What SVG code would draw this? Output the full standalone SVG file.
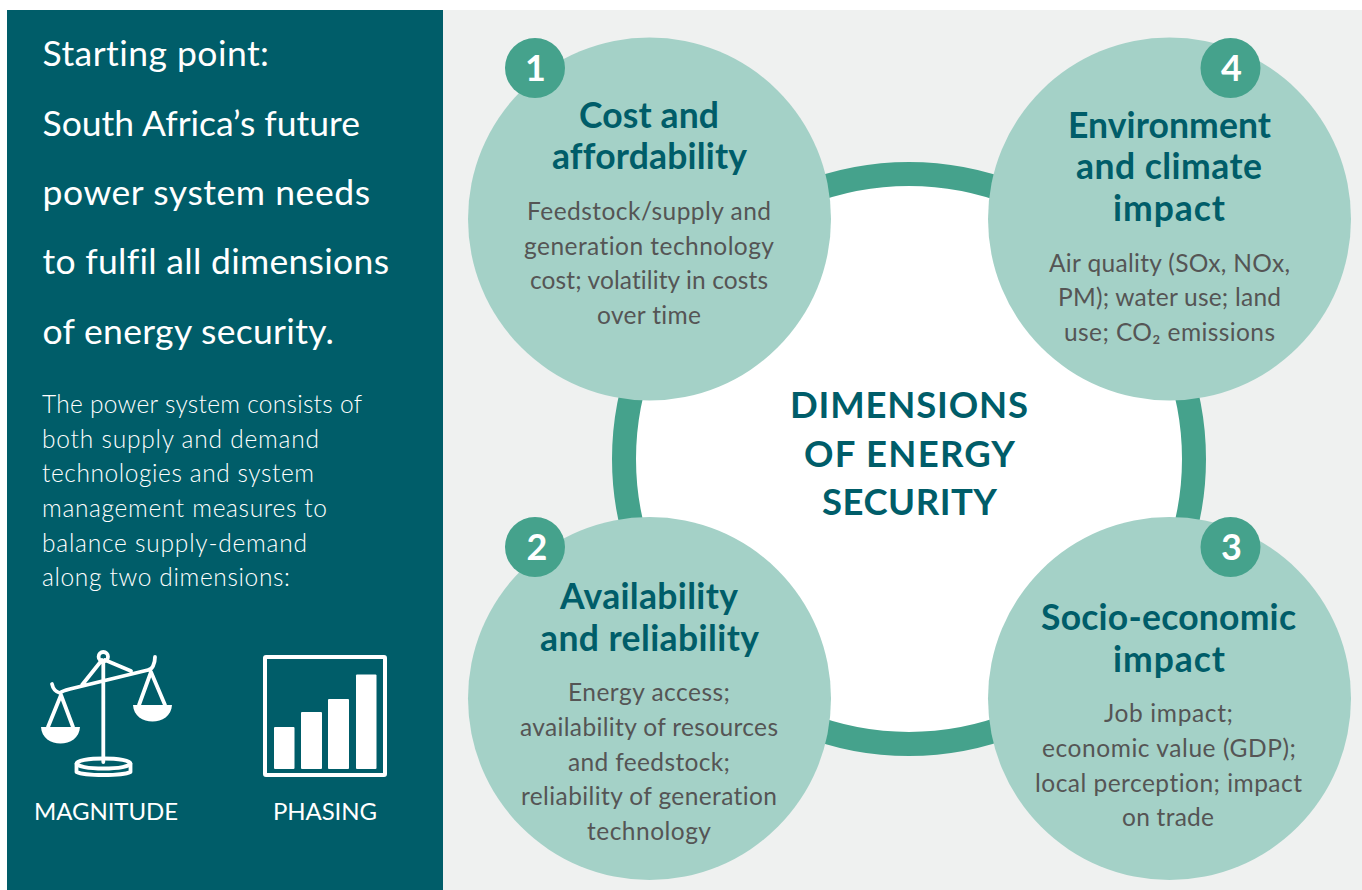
<svg xmlns="http://www.w3.org/2000/svg" width="1362" height="890" viewBox="0 0 1362 890">
<style>
text{font-family:"Lato","Open Sans",sans-serif;font-variant-ligatures:none}
.h{font-size:35.5px;font-weight:400;fill:#fff}
.p{font-size:24.5px;font-weight:300;fill:#fff}
.t{font-size:35.5px;font-weight:700;fill:#005d69;text-anchor:middle}
.b{font-size:24.5px;fill:#555;text-anchor:middle}
.c{fill:#a4d1c7}
.n{fill:#45a28c}
.d{font-size:36px;font-weight:700;fill:#fff;text-anchor:middle}
.m{font-size:24px;font-weight:400;fill:#fff;text-anchor:middle}
.w{fill:none;stroke:#fff;stroke-width:3.8;stroke-linecap:round;stroke-linejoin:round}
.x{font-size:36.5px;font-weight:700;fill:#005d69;text-anchor:middle}
</style>
<rect width="1362" height="890" fill="#fff"/>
<rect x="443" y="10" width="919" height="880" fill="#eff1f0"/>
<rect x="7" y="10" width="436" height="880" fill="#005d69"/>
<g id="panel">
<text class="h" x="42.500" y="66" textLength="226.500">Starting point:</text>
<text class="h" x="42.500" y="136" textLength="317.500">South Africa’s future</text>
<text class="h" x="42.500" y="205" textLength="327.500">power system needs</text>
<text class="h" x="42.500" y="274" textLength="346.500">to fulfil all dimensions</text>
<text class="h" x="42.500" y="344" textLength="291.500">of energy security.</text>
<text class="p" x="42" y="413" textLength="320">The power system consists of</text>
<text class="p" x="42" y="448" textLength="277">both supply and demand</text>
<text class="p" x="42" y="482" textLength="272">technologies and system</text>
<text class="p" x="42" y="517" textLength="285">management measures to</text>
<text class="p" x="42" y="552" textLength="265">balance supply-demand</text>
<text class="p" x="42" y="586" textLength="248">along two dimensions:</text>
</g>
<g id="icon-magnitude">
<circle cx="103.300" cy="656.700" r="4.700" class="w"/>
<path class="w" d="M103.300 662V762M52 684C53 689 56 692 60 693C62 691 66 690 70 689L148 670C152 670 155 664 155 657M102 660L82 685M105 660L131 671M61 695L48 727M61 695L73 727M151 672L139 705M151 672L165 705"/>
<path d="M41 727H80C79 749 42 749 41 727ZM133 705H172C171 727 134 727 133 705Z" fill="#fff"/>
<ellipse cx="103.500" cy="763.500" rx="27" ry="5" class="w"/><path class="w" d="M76.500 764V772C85 776 122 776 130.500 772V764"/>
<text class="m" x="106" y="820" textLength="144">MAGNITUDE</text>
</g>
<g id="icon-phasing">
<rect x="265" y="657" width="120" height="118" rx="1" fill="none" stroke="#fff" stroke-width="4"/>
<g fill="#fff"><rect x="274" y="727" width="20.500" height="42" rx="1"/><rect x="301" y="712" width="21" height="57" rx="1"/><rect x="328" y="699" width="21" height="70" rx="1"/><rect x="356" y="674.500" width="20.500" height="94.500" rx="1"/></g>
<text class="m" x="325" y="820" textLength="104">PHASING</text>
</g>
<g id="connectors">
<circle cx="909" cy="459" r="285" fill="#fff" stroke="#45a28c" stroke-width="24"/>
</g>
<g id="center"><text class="x" x="909" y="418" textLength="238">DIMENSIONS</text>
<text class="x" x="909.500" y="467" textLength="211">OF ENERGY</text>
<text class="x" x="909.500" y="515" textLength="175">SECURITY</text></g>
<g id="node1"><circle class="c" cx="649.500" cy="219" r="181.500"/><circle class="n" cx="535" cy="68" r="30"/><text class="d" x="535.500" y="81">1</text>
<text class="t" x="649" y="127.500" textLength="140">Cost and</text><text class="t" x="649.500" y="169" textLength="195">affordability</text>
<text class="b" x="649" y="220" textLength="244">Feedstock/supply and</text><text class="b" x="649" y="255" textLength="250">generation technology</text><text class="b" x="649" y="289" textLength="238">cost; volatility in costs</text><text class="b" x="649" y="324" textLength="104">over time</text></g>
<g id="node4"><circle class="c" cx="1169.500" cy="219" r="181.500"/><circle class="n" cx="1230.500" cy="68" r="30"/><text class="d" x="1231.500" y="81">4</text>
<text class="t" x="1169.500" y="137.500" textLength="203">Environment</text><text class="t" x="1169" y="179" textLength="186">and climate</text><text class="t" x="1169" y="221" textLength="112">impact</text>
<text class="b" x="1169.500" y="272" textLength="241">Air quality (SOx, NOx,</text><text class="b" x="1169.500" y="306" textLength="223">PM); water use; land</text><text class="b" x="1169.500" y="341" textLength="211">use; CO₂ emissions</text></g>
<g id="node2"><circle class="c" cx="649.500" cy="698.500" r="181.500"/><circle class="n" cx="535" cy="547" r="30"/><text class="d" x="537" y="560">2</text>
<text class="t" x="649" y="608.500" textLength="178">Availability</text><text class="t" x="649.500" y="650.500" textLength="219">and reliability</text>
<text class="b" x="649" y="701" textLength="162">Energy access;</text><text class="b" x="649" y="736" textLength="258">availability of resources</text><text class="b" x="649" y="771" textLength="162">and feedstock;</text><text class="b" x="649" y="805" textLength="256">reliability of generation</text><text class="b" x="649" y="840" textLength="124">technology</text></g>
<g id="node3"><circle class="c" cx="1169.500" cy="698.500" r="181.500"/><circle class="n" cx="1230.500" cy="547" r="30"/><text class="d" x="1231.500" y="560">3</text>
<text class="t" x="1168.500" y="629.500" textLength="255">Socio-economic</text><text class="t" x="1169" y="672" textLength="112">impact</text>
<text class="b" x="1168.500" y="722" textLength="129">Job impact;</text><text class="b" x="1169" y="757" textLength="254">economic value (GDP);</text><text class="b" x="1168.500" y="792" textLength="267">local perception; impact</text><text class="b" x="1168" y="826" textLength="92">on trade</text></g>
</svg>
